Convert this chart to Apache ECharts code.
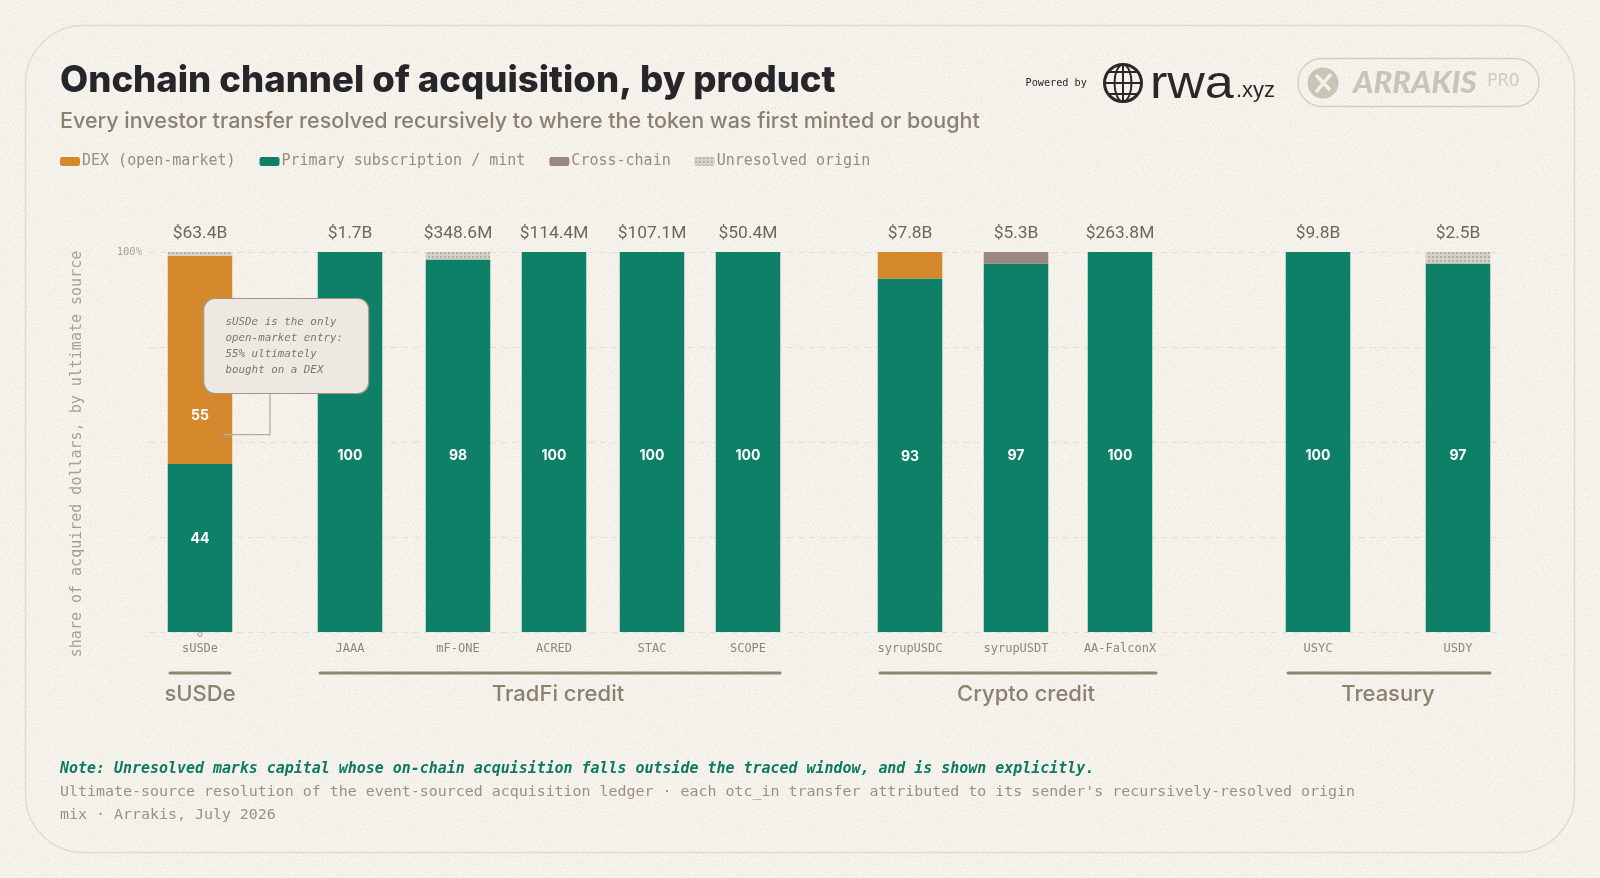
<!DOCTYPE html>
<html><head><meta charset="utf-8">
<script src="https://cdn.jsdelivr.net/npm/echarts@6/dist/echarts.min.js"></script>
<style>
html,body{margin:0;padding:0;width:1600px;height:878px;overflow:hidden;background:#F8F4EE;}
body{background-image:url("data:image/svg+xml;utf8,<svg xmlns='http://www.w3.org/2000/svg' width='400' height='400'><filter id='n'><feTurbulence type='fractalNoise' baseFrequency='0.85' numOctaves='2' stitchTiles='stitch'/><feColorMatrix values='0 0 0 0 0.45 0 0 0 0 0.42 0 0 0 0 0.36 0.5 0 0 0 -0.21'/></filter><rect width='400' height='400' filter='url(%23n)'/></svg>");}
#c{width:1600px;height:878px;}
</style></head><body><div id="c"></div>
<script>
const products = ['sUSDe','JAAA','mF-ONE','ACRED','STAC','SCOPE','syrupUSDC','syrupUSDT','AA-FalconX','USYC','USDY'];
const slotCount = 675;
const barSlots = [25,100,154,202,251,299,380,433,485,584,654];
const totals = ['$63.4B','$1.7B','$348.6M','$114.4M','$107.1M','$50.4M','$7.8B','$5.3B','$263.8M','$9.8B','$2.5B'];
const primary = [44.2,100,98,100,100,100,93,97,100,100,97];
const dex = [54.8,0,0,0,0,0,7,0,0,0,0];
const crossChain = [0,0,0,0,0,0,0,3,0,0,0];
const unresolved = [1,0,2,0,0,0,0,0,0,0,3];
const groupNames = ['sUSDe','TradFi credit','Crypto credit','Treasury'];
const groupStart = [10,85,365,569];
const groupEnd = [40,315,503,670];
const groupCentre = [25,204,438,619];
const seriesNames = ['DEX (open-market)','Primary subscription / mint','Cross-chain','Unresolved origin'];

const categories = new Array(slotCount).fill('');
barSlots.forEach((s,i)=>{categories[s]=products[i];});

const MONO = '"DejaVu Sans Mono","Liberation Mono",monospace';
const SANS = 'Inter,"Noto Sans",sans-serif';
const GREEN='#0E8068', ORANGE='#D48A2C', MAUVE='#9C8880', UNRES='#D6D1C6', TAUPE='#8A8170';
const dexNudge = {0:56}; const primaryNudge = {0:-9,1:14,2:10,3:14,4:14,5:14,6:1,7:8,8:14,9:14,10:8};

function points(vals, nudge){
  return vals.map((v,i)=>({value:[barSlots[i],v],
    label:(nudge && i in nudge)?{show:true,offset:[0,nudge[i]],position:'inside',formatter:String(Math.round(v)),color:'#fff',fontFamily:'Inter',fontWeight:700,fontSize:14}:{show:false}}));
}
function barSeries(name, vals, color, nudge, extra){
  return Object.assign({name,type:'bar',stack:'share',barWidth:64.5,z:2,itemStyle:{color},data:points(vals,nudge)},extra||{});
}
const chart = echarts.init(document.getElementById('c'),null,{renderer:'canvas',width:1600,height:878});
chart.setOption({
  animation:false,
  backgroundColor:'transparent',
  title:{left:60,top:63,padding:0,itemGap:11,
    text:'Onchain channel of acquisition, by product',
    textStyle:{fontFamily:SANS,fontWeight:800,fontSize:36.5,color:'#26252A'},
    subtext:'Every investor transfer resolved recursively to where the token was first minted or bought',
    subtextStyle:{fontFamily:SANS,fontWeight:500,fontSize:21.5,color:TAUPE}},
  legend:{left:60,top:154,padding:0,itemWidth:20,itemHeight:9,itemGap:24,icon:'roundRect',
    data:seriesNames,selectedMode:false,
    textStyle:{fontFamily:MONO,fontSize:15,color:'#978C7E',padding:[0,0,0,-3]}},
  grid:{left:149,right:101,top:252,bottom:246},
  xAxis:{type:'category',data:categories,axisLine:{show:false},axisTick:{show:false},splitLine:{show:false},
    axisLabel:{interval:0,hideOverlap:false,fontFamily:MONO,fontSize:12,color:'#8E8678',margin:11}},
  yAxis:{type:'value',min:0,max:100,interval:25,
    name:'share of acquired dollars, by ultimate source',nameLocation:'middle',nameGap:64,
    nameTextStyle:{fontFamily:MONO,fontSize:15,color:'#A89F92',padding:[0,24,0,0]},
    axisLine:{show:false},axisTick:{show:false},
    axisLabel:{margin:7,fontFamily:MONO,fontSize:10.5,color:'#A89F92',formatter:v=>v===100?'100%':''},
    splitLine:{lineStyle:{type:[6,5],color:'#E5DFD5',width:1}}},
  series:[
    barSeries(seriesNames[1],primary,GREEN,primaryNudge),
    barSeries(seriesNames[0],dex,ORANGE,dexNudge),
    barSeries(seriesNames[2],crossChain,MAUVE),
    barSeries(seriesNames[3],unresolved,UNRES,null,{itemStyle:{color:UNRES,decal:{symbol:'rect',symbolSize:1,dashArrayX:[1.5,1.5],dashArrayY:[1.5,1.5],rotation:0,color:'rgba(140,135,120,0.45)'}}}),
    {type:'scatter',name:'totals',symbolSize:0,z:3,silent:true,
      data:barSlots.map(s=>[s,100]),
      label:{show:true,position:'top',distance:9.5,formatter:p=>totals[p.dataIndex],fontFamily:'Roboto',fontSize:17.4,color:'#47433D'}},
    {type:'custom',name:'groups',silent:true,clip:false,z:3,
      data:groupNames.map((n,i)=>[groupCentre[i],0]),
      renderItem:(p,api)=>{
        const i=p.dataIndex;
        const a=api.coord([groupStart[i],0]), b=api.coord([groupEnd[i],0]), c=api.coord([groupCentre[i],0]);
        return {type:'group',children:[
          {type:'line',shape:{x1:a[0],y1:a[1]+41,x2:b[0],y2:b[1]+41},style:{stroke:'#8F8570',lineWidth:3,lineCap:'round'}},
          {type:'text',style:{x:c[0],y:c[1]+62.5,text:groupNames[i],align:'center',verticalAlign:'middle',fontFamily:SANS,fontWeight:500,fontSize:22,fill:TAUPE}}
        ]};
      }}
  ],
  graphic:[
    {type:'rect',silent:true,z:-10,shape:{x:25.5,y:25.5,width:1549,height:827,r:58},style:{fill:'rgba(0,0,0,0)',stroke:'#E0DBD1',lineWidth:1.5}},
    {type:'text',z:0,style:{x:200,y:634,text:'0',align:'center',verticalAlign:'middle',fontFamily:MONO,fontSize:10.5,fill:'#A89F92'}},
    {type:'polyline',z:5,shape:{points:[[270,393],[270,434.7],[222,434.7]]},style:{stroke:'#B5AE9F',lineWidth:1.3,fill:'none'}},
    {type:'polyline',z:5,shape:{points:[[226,432.5],[222,434.7],[226,437]]},style:{stroke:'#9A9A9A',lineWidth:1,fill:'none'}},
    {type:'rect',z:6,shape:{x:203.7,y:298.5,width:165,height:95,r:11},style:{fill:'#EDE8E1',stroke:'#A3948A',lineWidth:1.2}},
    {type:'text',z:7,style:{x:225.5,y:314,text:'sUSDe is the only\nopen-market entry:\n55% ultimately\nbought on a DEX',lineHeight:16,verticalAlign:'top',fontFamily:MONO,fontStyle:'italic',fontSize:10.85,fill:'#7E7568'}},
    {type:'text',style:{x:60,y:769,text:'Note: Unresolved marks capital whose on-chain acquisition falls outside the traced window, and is shown explicitly.',verticalAlign:'middle',fontFamily:MONO,fontStyle:'italic',fontWeight:700,fontSize:14.94,fill:'#0B7A5F'}},
    {type:'text',style:{x:60,y:792,text:"Ultimate-source resolution of the event-sourced acquisition ledger · each otc_in transfer attributed to its sender's recursively-resolved origin",verticalAlign:'middle',fontFamily:MONO,fontSize:14.94,fill:'#9B8F86'}},
    {type:'text',style:{x:60,y:815,text:'mix · Arrakis, July 2026',verticalAlign:'middle',fontFamily:MONO,fontSize:14.94,fill:'#9B8F86'}},
    {type:'text',style:{x:1025.5,y:83.5,text:'Powered by',verticalAlign:'middle',fontFamily:MONO,fontSize:10.2,fill:'#2A2826'}},
    {type:'circle',shape:{cx:1123,cy:83,r:18.5},style:{fill:'none',stroke:'#2A2826',lineWidth:3}},
    {type:'ellipse',shape:{cx:1123,cy:83,rx:8.5,ry:18.5},style:{fill:'none',stroke:'#2A2826',lineWidth:2}},
    {type:'line',shape:{x1:1123,y1:64.5,x2:1123,y2:101.5},style:{stroke:'#2A2826',lineWidth:2}},
    {type:'line',shape:{x1:1104.5,y1:83,x2:1141.5,y2:83},style:{stroke:'#2A2826',lineWidth:2}},
    {type:'line',shape:{x1:1108,y1:72,x2:1138,y2:72},style:{stroke:'#2A2826',lineWidth:2}},
    {type:'line',shape:{x1:1108,y1:94,x2:1138,y2:94},style:{stroke:'#2A2826',lineWidth:2}},
    {type:'text',originX:1150,originY:99,scaleY:0.88,style:{x:1150,y:109,text:'rwa',verticalAlign:'bottom',fontFamily:'Liberation Sans',fontSize:52,fill:'#2A2826'}},
    {type:'text',style:{x:1236,y:102,text:'.xyz',verticalAlign:'bottom',fontFamily:'Liberation Sans',fontSize:22,fill:'#2A2826'}},
    {type:'rect',shape:{x:1298,y:58.5,width:241,height:48,r:24},style:{fill:'none',stroke:'#D2CDC2',lineWidth:1.3}},
    {type:'circle',shape:{cx:1323,cy:83,r:15.5},style:{fill:'#C9C4B6'}},
    {type:'line',shape:{x1:1316,y1:92,x2:1331,y2:74},style:{stroke:'#F5F1EB',lineWidth:3.5}},
    {type:'line',shape:{x1:1316,y1:75,x2:1330,y2:90},style:{stroke:'#F5F1EB',lineWidth:3.5}},
    {type:'text',style:{x:1353,y:83,text:'ARRAKIS',verticalAlign:'middle',fontFamily:'Lato',fontWeight:900,fontStyle:'italic',fontSize:31,fill:'#C9C4B6'}},
    {type:'text',style:{x:1487,y:81,text:'PRO',verticalAlign:'middle',fontFamily:MONO,fontSize:18,fill:'#D2CDC2'}}
  ]
});
</script></body></html>
